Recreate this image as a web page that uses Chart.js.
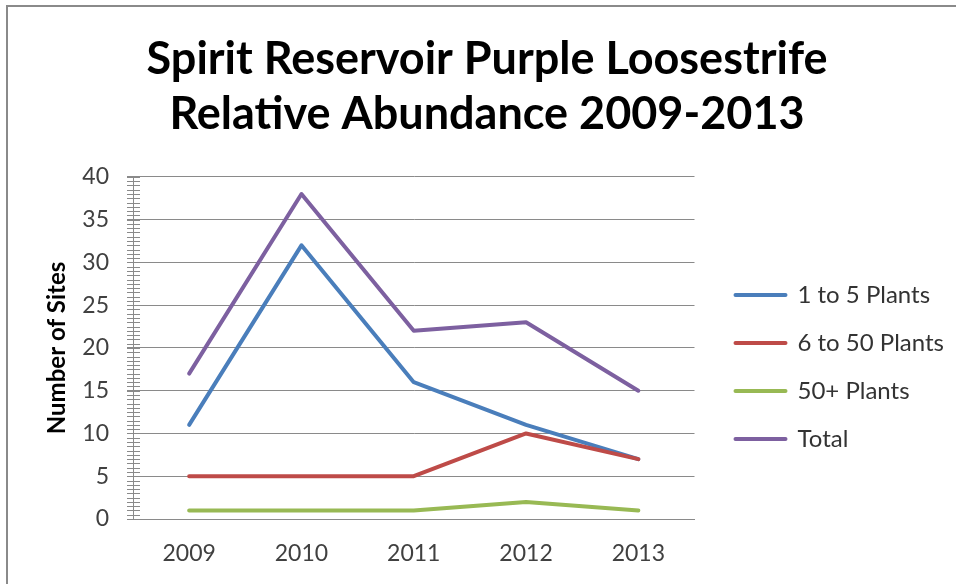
<!DOCTYPE html>
<html>
<head>
<meta charset="utf-8">
<script src="https://cdn.jsdelivr.net/npm/chart.js@4.4.1/dist/chart.umd.min.js"></script>
<style>
  html, body { margin: 0; padding: 0; background: #ffffff; }
  #wrap { position: relative; width: 956px; height: 584px; overflow: hidden; }
  #frameTop { position: absolute; left: 6px; top: 5px; width: 950px; height: 2px; background: #8a8a8a; }
  #frameLeft { position: absolute; left: 6px; top: 5px; width: 2px; height: 579px; background: #8a8a8a; }
  #c { position: absolute; left: 0; top: 0; }
</style>
</head>
<body>
<div id="wrap">
  <div id="frameTop"></div>
  <div id="frameLeft"></div>
  <canvas id="c" width="956" height="584"></canvas>
</div>
<script>
const categories = ['2009', '2010', '2011', '2012', '2013'];
const oneToFive = [11, 32, 16, 11, 7];
const sixToFifty = [5, 5, 5, 10, 7];
const fiftyPlus = [1, 1, 1, 2, 1];
const total = [17, 38, 22, 23, 15];
const seriesNames = ['1 to 5 Plants', '6 to 50 Plants', '50+ Plants', 'Total'];
const seriesColors = ['#4A7EBB', '#BE4B48', '#98B954', '#7D60A0'];
const yTicks = { min: 0, max: 40, step: 5, minorStep: 0.5 };
const titleLines = ['Spirit Reservoir Purple Loosestrife', 'Relative Abundance 2009-2013'];
const yTitle = 'Number of Sites';

const FONT = 'Lato, "Open Sans", "Noto Sans", sans-serif';
const seriesValues = [oneToFive, sixToFifty, fiftyPlus, total];

const minorTicks = {
  id: 'minorTicks',
  afterDraw(chart) {
    const y = chart.scales.y;
    const ctx = chart.ctx;
    const x0 = chart.chartArea.left;
    ctx.save();
    ctx.strokeStyle = '#8a8a8a';
    ctx.lineWidth = 1;
    ctx.beginPath();
    for (let v = yTicks.min; v <= yTicks.max + 1e-9; v += yTicks.minorStep) {
      const py = Math.round(y.getPixelForValue(v)) + 0.5;
      ctx.moveTo(x0 - 6, py);
      ctx.lineTo(x0 + 7, py);
    }
    ctx.stroke();
    ctx.restore();
  }
};

new Chart(document.getElementById('c'), {
  type: 'line',
  data: {
    labels: categories,
    datasets: seriesValues.map((vals, i) => ({
      label: seriesNames[i],
      data: vals,
      borderColor: seriesColors[i],
      backgroundColor: seriesColors[i],
      borderWidth: 4,
      borderCapStyle: 'round',
      borderJoinStyle: 'round',
      pointRadius: 0,
      pointHoverRadius: 0,
      tension: 0,
      fill: false,
      order: seriesValues.length - 1 - i
    }))
  },
  options: {
    responsive: false,
    animation: false,
    events: [],
    layout: { padding: { left: 20, right: 2, top: 0, bottom: 17 } },
    plugins: {
      tooltip: { enabled: false },
      title: {
        display: true,
        text: titleLines,
        color: '#000000',
        font: { family: FONT, size: 45, weight: 'bold', lineHeight: 1.22 },
        padding: { top: 32.5, bottom: 34.6 }
      },
      legend: {
        display: true,
        position: 'right',
        fullSize: false,
        reverse: true,
        maxWidth: 400,
        title: { display: true, text: '', font: { size: 20, lineHeight: 1.2 }, padding: 7 },
        labels: {
          color: '#333333',
          font: { family: FONT, size: 24 },
          boxWidth: 50,
          boxHeight: 0,
          padding: 24
        }
      }
    },
    scales: {
      x: {
        type: 'category',
        offset: true,
        afterFit(scale) { scale.height = 48; },
        grid: { display: false, drawTicks: false },
        border: { display: true, color: '#8a8a8a', width: 1 },
        ticks: { color: '#404040', font: { family: FONT, size: 23 }, padding: 21, maxRotation: 0 }
      },
      y: {
        type: 'linear',
        position: 'left',
        min: yTicks.min,
        max: yTicks.max,
        afterFit(scale) { scale.width = 113; },
        ticks: { stepSize: yTicks.step, color: '#404040', font: { family: FONT, size: 23 }, padding: 18 },
        grid: { color: '#8a8a8a', lineWidth: 1, tickLength: 6, drawTicks: true },
        border: { display: true, color: '#8a8a8a', width: 1 },
        title: {
          display: true,
          text: yTitle,
          color: '#000000',
          font: { family: FONT, size: 24, weight: 'bold', lineHeight: 1.2 },
          padding: { top: 23, bottom: 0 }
        }
      },
      yPad: {
        type: 'linear',
        position: 'right',
        display: true,
        min: yTicks.min,
        max: yTicks.max,
        afterFit(scale) { scale.width = 17; },
        ticks: { display: false },
        grid: { display: false, drawTicks: false },
        border: { display: false }
      }
    }
  },
  plugins: [minorTicks]
});
</script>
</body>
</html>
